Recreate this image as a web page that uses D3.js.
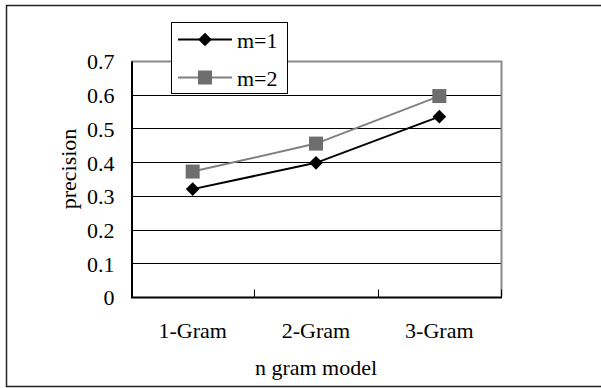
<!DOCTYPE html>
<html>
<head>
<meta charset="utf-8">
<script src="https://cdn.jsdelivr.net/npm/d3@7"></script>
<style>
  body { margin: 0; background: #fff; }
  svg { display: block; }
  svg text { font-family: "Liberation Serif", "Times New Roman", serif; font-size: 22px; fill: #000; }
</style>
</head>
<body>
<div id="chartArea"></div>
<script>
// data
var categories = ["1-Gram", "2-Gram", "3-Gram"];
var seriesNames = ["m=1", "m=2"];
var m1 = [0.32, 0.398, 0.535];
var m2 = [0.372, 0.455, 0.596];
var yTicks = [0, 0.1, 0.2, 0.3, 0.4, 0.5, 0.6, 0.7];

var width = 601, height = 388;
// plot area box (note: "top" is reserved on window, so use plotTop)
var plotLeft = 131, plotRight = 501, plotTop = 61, plotBottom = 297;
var serif = "Liberation Serif, Times New Roman, serif";

var svg = d3.select("#chartArea").append("svg")
    .attr("width", width)
    .attr("height", height);

// outer frame
svg.append("rect")
    .attr("x", 6.5).attr("y", 5.5)
    .attr("width", 610).attr("height", 381)
    .attr("fill", "none")
    .attr("stroke", "#222")
    .attr("stroke-width", 1.5);

var x = d3.scalePoint().domain(categories).range([plotLeft, plotRight]).padding(0.5);
var y = d3.scaleLinear().domain([0, 0.7]).range([plotBottom, plotTop]);

// gridlines
svg.append("g").selectAll("line")
    .data(yTicks.slice(1, -1))
    .enter().append("line")
    .attr("x1", plotLeft).attr("x2", plotRight)
    .attr("y1", d => Math.round(y(d)) + 0.5)
    .attr("y2", d => Math.round(y(d)) + 0.5)
    .attr("stroke", "#000")
    .attr("stroke-width", 1);

// plot area top/right border (gray)
svg.append("path")
    .attr("d", "M" + plotLeft + "," + (plotTop + 0.5) + "H" + (plotRight + 0.5) + "V" + plotBottom)
    .attr("fill", "none")
    .attr("stroke", "#8a8a8a")
    .attr("stroke-width", 2);

// y axis
var yAxis = svg.append("g")
    .attr("transform", "translate(" + (plotLeft + 0.5) + ",0)")
    .call(d3.axisLeft(y).tickValues(yTicks).tickSize(0).tickPadding(17)
        .tickFormat(d => d === 0 ? "0" : d3.format(".1f")(d)));
yAxis.attr("font-family", serif).attr("font-size", 22);
yAxis.select(".domain").attr("stroke", "#000").attr("stroke-width", 2);
yAxis.selectAll("text")
    .attr("fill", "#000")
    .attr("dy", "0.36em");

// x axis with inward ticks between categories
var xAxis = svg.append("g")
    .attr("transform", "translate(0," + (plotBottom + 0.5) + ")");
xAxis.append("line")
    .attr("x1", plotLeft).attr("x2", plotRight + 1)
    .attr("stroke", "#000").attr("stroke-width", 2);
var step = x.step();
xAxis.selectAll(".tk")
    .data(categories.slice(1).concat(["end"]))
    .enter().append("line")
    .attr("class", "tk")
    .attr("x1", (d, i) => Math.round(plotLeft + step * (i + 1)) + 0.5)
    .attr("x2", (d, i) => Math.round(plotLeft + step * (i + 1)) + 0.5)
    .attr("y1", 0).attr("y2", -8)
    .attr("stroke", "#000").attr("stroke-width", 1);
xAxis.selectAll(".lbl")
    .data(categories)
    .enter().append("text")
    .attr("class", "lbl")
    .attr("x", d => x(d))
    .attr("y", 40)
    .attr("text-anchor", "middle")
    .text(d => d);

// axis titles
svg.append("text")
    .attr("x", (plotLeft + plotRight) / 2)
    .attr("y", 375)
    .attr("text-anchor", "middle")
    .text("n gram model");
svg.append("text")
    .attr("transform", "translate(76,169) rotate(-90)")
    .attr("text-anchor", "middle")
    .text("precision");

// lines
var line = d3.line().x((d, i) => x(categories[i])).y(d => y(d));
svg.append("path").datum(m2)
    .attr("d", line)
    .attr("fill", "none")
    .attr("stroke", "#808080")
    .attr("stroke-width", 2);
svg.append("path").datum(m1)
    .attr("d", line)
    .attr("fill", "none")
    .attr("stroke", "#000")
    .attr("stroke-width", 2);

// markers
var diamond = d3.symbol().type(d3.symbolDiamond2).size(120);
svg.append("g").selectAll("rect")
    .data(m2)
    .enter().append("rect")
    .attr("x", (d, i) => x(categories[i]) - 7)
    .attr("y", d => y(d) - 7)
    .attr("width", 14).attr("height", 14)
    .attr("fill", "#6e6e6e");
svg.append("g").selectAll("path")
    .data(m1)
    .enter().append("path")
    .attr("d", diamond)
    .attr("transform", (d, i) => "translate(" + x(categories[i]) + "," + y(d) + ")")
    .attr("fill", "#000");

// legend
var legend = svg.append("g");
legend.append("rect")
    .attr("x", 171.5).attr("y", 22.5)
    .attr("width", 116).attr("height", 71)
    .attr("fill", "#fff")
    .attr("stroke", "#000")
    .attr("stroke-width", 1);
var legY = [39.5, 77.5];
seriesNames.forEach(function (name, i) {
    var col = i === 0 ? "#000" : "#808080";
    legend.append("line")
        .attr("x1", 178).attr("x2", 232)
        .attr("y1", legY[i]).attr("y2", legY[i])
        .attr("stroke", col).attr("stroke-width", 2);
    if (i === 0) {
        legend.append("path")
            .attr("d", diamond)
            .attr("transform", "translate(205," + legY[i] + ")")
            .attr("fill", "#000");
    } else {
        legend.append("rect")
            .attr("x", 198).attr("y", legY[i] - 7)
            .attr("width", 14).attr("height", 14)
            .attr("fill", "#6e6e6e");
    }
    legend.append("text")
        .attr("x", 237)
        .attr("y", legY[i] + 8.5)
        .text(name);
});
</script>
</body>
</html>
